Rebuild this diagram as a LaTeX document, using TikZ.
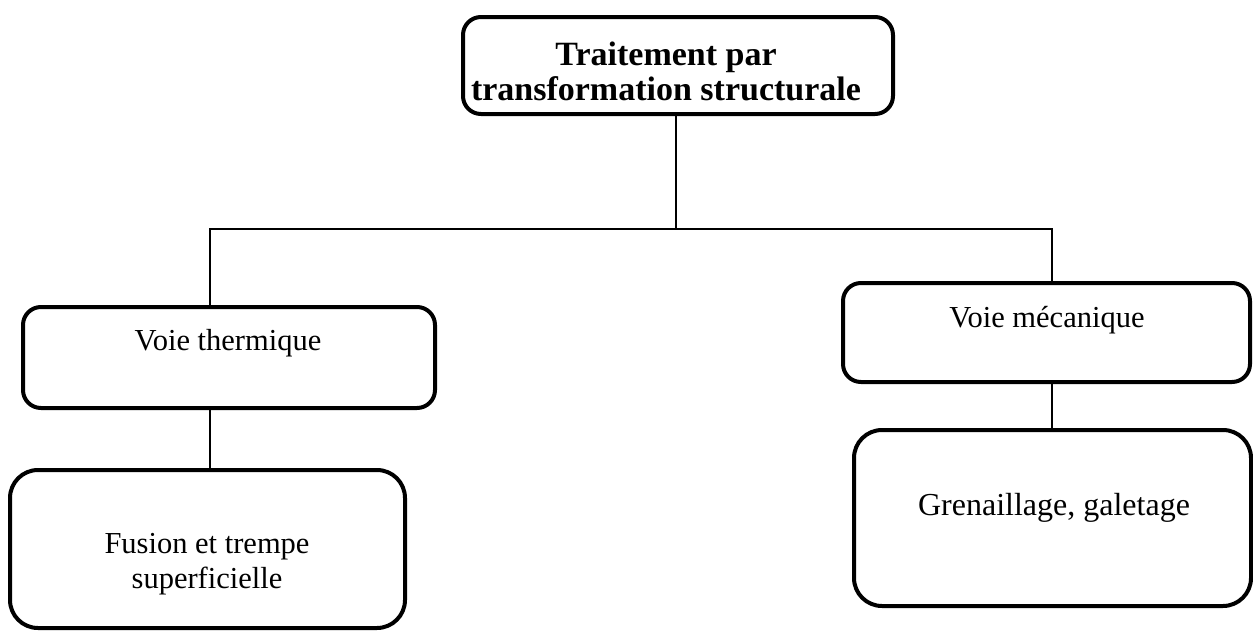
\documentclass[tikz,border=0pt]{standalone}
\usepackage{fontspec}
\setmainfont{Liberation Serif}
\tikzset{
  box/.style={draw, line width=2pt, inner sep=0pt, rounded corners=#1},
  box/.default=9pt,
  conn/.style={draw, line width=0.85pt},
  lbl/.style={anchor=base, inner sep=0pt, font=\fontsize{15.25}{17.5}\selectfont},
  lblbold/.style={anchor=base, inner sep=0pt, font=\fontsize{17}{17.5}\selectfont\bfseries}
}
\begin{document}
\begin{tikzpicture}[x=0.5pt,y=-0.5pt]
\useasboundingbox (0,0) rectangle (1253,632);
% boxes
\node[box=9pt, minimum width=215pt, minimum height=48.5pt] (top) at (678,65.5) {};
\node[box=9pt, minimum width=206pt, minimum height=50.5pt] (thermique) at (229,357.5) {};
\node[box=9pt, minimum width=203.5pt, minimum height=49.5pt] (mecanique) at (1046.5,332.5) {};
\node[box=14pt, minimum width=197.5pt, minimum height=79pt] (fusion) at (207.5,549) {};
\node[box=14pt, minimum width=198.5pt, minimum height=88pt] (grenaillage) at (1052.5,518) {};
% texts
\node[lblbold] (ttop) at (666,65) {\begin{tabular}[t]{@{}c@{}}Traitement par\\transformation structurale\end{tabular}};
\node[lbl] (tthermique) at (228,350) {Voie thermique};
\node[lbl] (tmecanique) at (1047,327) {Voie mécanique};
\node[lbl] (tfusion) at (207,553) {\begin{tabular}[t]{@{}c@{}}Fusion et trempe\\superficielle\end{tabular}};
\node[lbl, font=\fontsize{16}{18}\selectfont] (tgren) at (1054,515) {Grenaillage, galetage};
% connectors
\coordinate (jt) at (676,229);
\coordinate (jl) at (210,229);
\coordinate (jr) at (1052,229);
\draw[conn] (top.south -| jt) -- (jt);
\draw[conn] (thermique.north -| jl) -- (jl) -- (jr) -- (mecanique.north -| jr);
\draw[conn] (thermique.south -| jl) -- (fusion.north -| jl);
\draw[conn] (mecanique.south -| jr) -- (grenaillage.north -| jr);
\end{tikzpicture}
\end{document}
